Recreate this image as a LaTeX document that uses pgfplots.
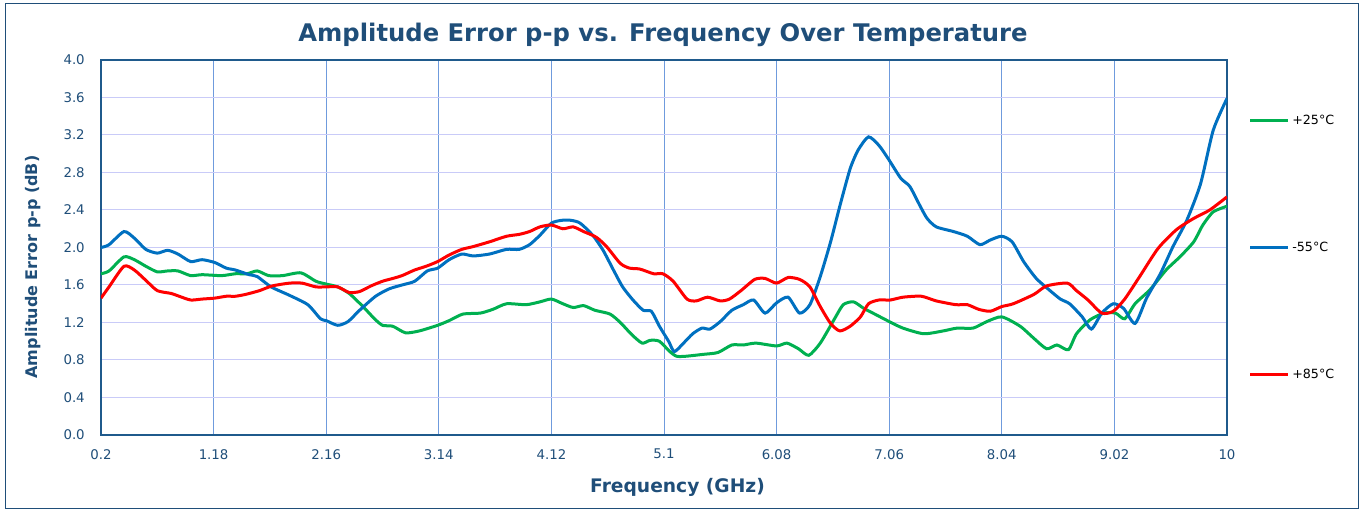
\documentclass[border=0pt]{standalone}
\usepackage{fontspec}
\setmainfont{DejaVu Sans}
\usepackage{pgfplots}
\pgfplotsset{compat=1.18}
\definecolor{cGreen}{HTML}{00B050}
\definecolor{cBlue}{HTML}{0070C0}
\definecolor{cRed}{HTML}{FF0000}
\definecolor{navy}{HTML}{1F4E79}
\definecolor{frameblue}{HTML}{1F5A8C}
\definecolor{vgrid}{HTML}{6F9BDD}
\definecolor{hgrid}{HTML}{C9CBF8}

\begin{document}
\begin{tikzpicture}[x=1pt,y=1pt]
\begin{axis}[
  name=ax,
  scale only axis, width=844.5pt, height=281.25pt,
  xmin=0.2, xmax=10, ymin=0, ymax=4,
  xtick={0.2,1.18,2.16,3.14,4.12,5.1,6.08,7.06,8.04,9.02,10},
  xticklabels={0.2,1.18,2.16,3.14,4.12,5.1,6.08,7.06,8.04,9.02,10},
  ytick={0,0.4,...,4.0},
  yticklabel style={/pgf/number format/fixed, /pgf/number format/fixed zerofill,
    /pgf/number format/precision=1},
  /pgf/number format/assume math mode=true,
  major tick length=0pt,
  grid=major,
  x grid style={vgrid, line width=0.75pt},
  y grid style={hgrid, line width=0.75pt},
  axis line style={frameblue, line width=1.1pt},
  tick label style={font=\fontsize{10}{12}\selectfont, text=navy},
  xticklabel style={inner sep=0pt, yshift=-10.5pt},
  yticklabel style={inner sep=0pt, xshift=-12pt},
  xlabel={Frequency (GHz)},
  ylabel={Amplitude Error p-p (dB)},
  xlabel style={font=\bfseries\fontsize{14}{16}\selectfont, text=navy,
    at={(axis description cs:0.512,0)}, anchor=center, yshift=-39pt},
  ylabel style={font=\bfseries\fontsize{12}{14}\selectfont, text=navy,
    at={(axis description cs:0,0.448)}, anchor=center, yshift=51pt},
  every axis plot/.append style={line width=2.25pt, smooth, tension=0.4, mark=none},
  legend image code/.code={\draw[#1] (0pt,0pt) -- (28.5pt,0pt);},
  legend style={at={(1.019,0.5)}, anchor=west, draw=none, fill=none,
    inner sep=0pt, row sep=85.6pt, column sep=2pt,
    font=\fontsize{9.5}{11}\selectfont,
    nodes={inner sep=0pt, text height=8pt, text depth=2pt}},
  legend cell align=left,
]
\addplot[cGreen] coordinates {
(0.2,1.72)(0.27,1.75)(0.40,1.90)(0.49,1.87)(0.59,1.80)(0.69,1.74)(0.78,1.75)(0.87,1.75)
(0.98,1.70)(1.08,1.71)(1.25,1.70)(1.37,1.72)(1.47,1.72)(1.56,1.75)(1.66,1.70)(1.78,1.70)
(1.94,1.73)(2.07,1.64)(2.16,1.61)(2.26,1.58)(2.36,1.51)(2.48,1.37)(2.58,1.24)(2.65,1.17)
(2.74,1.16)(2.85,1.09)(2.97,1.11)(3.13,1.17)(3.23,1.22)(3.35,1.29)(3.50,1.30)(3.61,1.34)
(3.73,1.40)(3.90,1.39)(4.02,1.42)(4.12,1.45)(4.22,1.40)(4.31,1.36)(4.40,1.38)(4.50,1.33)
(4.63,1.29)(4.72,1.20)(4.82,1.07)(4.91,0.98)(4.98,1.01)(5.06,1.00)(5.15,0.89)(5.21,0.84)
(5.29,0.84)(5.44,0.86)(5.57,0.88)(5.69,0.96)(5.79,0.96)(5.90,0.98)(6.08,0.95)(6.17,0.98)
(6.27,0.92)(6.36,0.85)(6.46,0.98)(6.58,1.23)(6.66,1.39)(6.75,1.42)(6.84,1.35)(6.95,1.28)
(7.06,1.21)(7.18,1.14)(7.36,1.08)(7.53,1.11)(7.65,1.14)(7.79,1.14)(7.91,1.21)(8.04,1.26)
(8.20,1.16)(8.32,1.03)(8.43,0.92)(8.52,0.96)(8.62,0.91)(8.69,1.08)(8.81,1.23)(8.93,1.30)
(9.03,1.30)(9.11,1.24)(9.20,1.40)(9.33,1.55)(9.47,1.76)(9.59,1.90)(9.71,2.06)(9.79,2.24)
(9.88,2.38)(10.0,2.44)};
\addlegendentry{+25°C}
\addplot[cBlue] coordinates {
(0.2,2.00)(0.27,2.03)(0.40,2.17)(0.49,2.10)(0.59,1.98)(0.69,1.94)(0.78,1.97)(0.87,1.93)
(0.98,1.85)(1.08,1.87)(1.19,1.84)(1.29,1.78)(1.37,1.76)(1.49,1.71)(1.56,1.69)(1.68,1.58)
(1.84,1.49)(2.00,1.39)(2.11,1.24)(2.16,1.22)(2.26,1.17)(2.35,1.21)(2.45,1.33)(2.59,1.48)
(2.71,1.56)(2.82,1.60)(2.93,1.64)(3.04,1.75)(3.13,1.78)(3.23,1.87)(3.34,1.93)(3.44,1.91)
(3.58,1.93)(3.73,1.98)(3.84,1.98)(3.93,2.03)(4.02,2.13)(4.12,2.26)(4.21,2.29)(4.29,2.29)
(4.37,2.26)(4.48,2.13)(4.57,1.97)(4.66,1.76)(4.74,1.58)(4.83,1.44)(4.92,1.33)(4.99,1.32)
(5.06,1.16)(5.14,1.00)(5.19,0.89)(5.27,0.98)(5.35,1.08)(5.43,1.14)(5.50,1.13)(5.59,1.21)
(5.69,1.33)(5.79,1.39)(5.88,1.44)(5.98,1.30)(6.08,1.41)(6.18,1.47)(6.28,1.30)(6.37,1.39)
(6.46,1.69)(6.55,2.06)(6.63,2.44)(6.72,2.84)(6.79,3.04)(6.88,3.18)(6.97,3.09)(7.05,2.95)
(7.16,2.74)(7.24,2.65)(7.33,2.44)(7.39,2.31)(7.47,2.22)(7.62,2.17)(7.74,2.12)(7.85,2.03)
(7.94,2.08)(8.04,2.12)(8.13,2.06)(8.23,1.85)(8.34,1.67)(8.45,1.55)(8.55,1.45)(8.63,1.40)
(8.74,1.26)(8.82,1.13)(8.91,1.30)(9.01,1.40)(9.10,1.35)(9.20,1.19)(9.30,1.46)(9.42,1.72)
(9.53,2.01)(9.65,2.29)(9.77,2.68)(9.88,3.25)(10.0,3.59)};
\addlegendentry{-55°C}
\addplot[cRed] coordinates {
(0.2,1.46)(0.27,1.58)(0.40,1.80)(0.49,1.76)(0.59,1.65)(0.69,1.54)(0.81,1.51)(0.88,1.48)
(0.98,1.44)(1.08,1.45)(1.19,1.46)(1.29,1.48)(1.37,1.48)(1.46,1.50)(1.58,1.54)(1.69,1.59)
(1.84,1.62)(1.95,1.62)(2.07,1.58)(2.16,1.58)(2.26,1.58)(2.36,1.52)(2.45,1.53)(2.55,1.59)
(2.65,1.64)(2.74,1.67)(2.82,1.70)(2.93,1.76)(3.03,1.80)(3.13,1.85)(3.23,1.92)(3.34,1.98)
(3.44,2.01)(3.58,2.06)(3.73,2.12)(3.84,2.14)(3.93,2.17)(4.02,2.22)(4.12,2.24)(4.22,2.20)
(4.31,2.22)(4.40,2.17)(4.51,2.11)(4.60,2.01)(4.72,1.83)(4.80,1.78)(4.89,1.77)(5.01,1.72)
(5.09,1.72)(5.18,1.64)(5.30,1.45)(5.38,1.43)(5.48,1.47)(5.59,1.43)(5.67,1.45)(5.77,1.54)
(5.89,1.66)(5.98,1.67)(6.08,1.62)(6.18,1.68)(6.28,1.66)(6.37,1.58)(6.46,1.37)(6.55,1.19)
(6.63,1.11)(6.72,1.16)(6.81,1.26)(6.88,1.40)(6.97,1.44)(7.07,1.44)(7.18,1.47)(7.34,1.48)
(7.47,1.43)(7.64,1.39)(7.74,1.39)(7.84,1.34)(7.94,1.32)(8.04,1.37)(8.14,1.40)(8.32,1.50)
(8.43,1.59)(8.61,1.62)(8.69,1.54)(8.79,1.44)(8.91,1.30)(9.01,1.32)(9.11,1.45)(9.24,1.69)
(9.40,1.99)(9.56,2.19)(9.71,2.31)(9.85,2.40)(10.0,2.54)};
\addlegendentry{+85°C}
\end{axis}
\pgfresetboundingbox
\begin{scope}[shift={(ax.south west)}, xshift=-75.75pt, yshift=-56.25pt]
\path[use as bounding box] (0,0) rectangle (1022.25,382.5);
\draw[navy, line width=0.75pt] (4.5,0.75) rectangle (1018.5,379.5);
\node[font=\bfseries\fontsize{18.2}{22}\selectfont, text=navy] at (497.25,356.25)
  {Amplitude Error p-p vs. Frequency Over Temperature};
\end{scope}
\end{tikzpicture}
\end{document}
